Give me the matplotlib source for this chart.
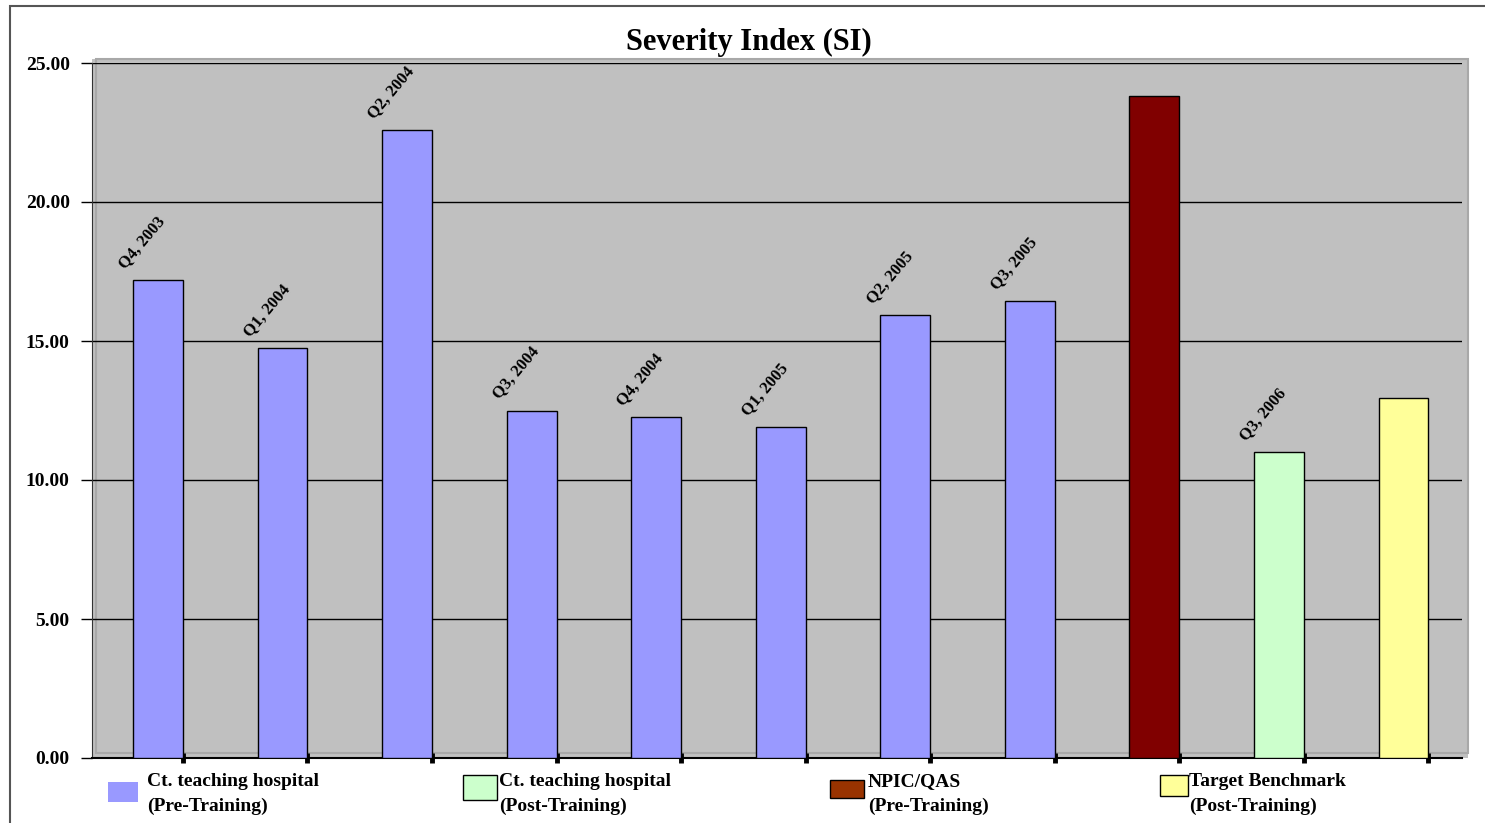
import matplotlib.pyplot as plt
from matplotlib.patches import Rectangle

# Severity Index per quarter / benchmark
bar_labels = ['Q4, 2003', 'Q1, 2004', 'Q2, 2004', 'Q3, 2004', 'Q4, 2004', 'Q1, 2005',
              'Q2, 2005', 'Q3, 2005', '', 'Q3, 2006', '']
si_values = [17.2, 14.75, 22.6, 12.5, 12.25, 11.9, 15.95, 16.45, 23.8, 11.0, 12.95]
bar_groups = ['pre', 'pre', 'pre', 'pre', 'pre', 'pre', 'pre', 'pre', 'npic', 'post', 'target']

group_colors = {'pre': '#9999FF', 'post': '#CCFFCC', 'npic': '#800000', 'target': '#FFFF99'}
legend_names = ['Ct. teaching hospital\n(Pre-Training)',
                'Ct. teaching hospital\n(Post-Training)',
                'NPIC/QAS\n(Pre-Training)',
                'Target Benchmark\n(Post-Training)']
legend_colors = ['#9999FF', '#CCFFCC', '#993300', '#FFFF99']
y_ticks = [0, 5, 10, 15, 20, 25]

W, H = 1485, 823
font = ['Liberation Serif', 'DejaVu Serif']

fig = plt.figure(figsize=(W / 100, H / 100), dpi=100)
fig.patch.set_facecolor('white')


def fx(px):
    return px / W


def fy(py):
    return 1 - py / H


# outer frame
fig.add_artist(Rectangle((fx(10), -0.1), 1.2, fy(6) + 0.1, transform=fig.transFigure,
                         fill=False, edgecolor='#555555', lw=1.5))
# 3d back wall of the plot area
fig.add_artist(Rectangle((fx(92), fy(758)), fx(1468) - fx(92), fy(59) - fy(758),
                         transform=fig.transFigure, facecolor='#C0C0C0',
                         edgecolor='none', zorder=0))
fig.add_artist(Rectangle((fx(96), fy(753)), fx(1468) - fx(96), fy(59) - fy(753),
                         transform=fig.transFigure, fill=False,
                         edgecolor='#A8A8A8', lw=1.5, zorder=0))

ax = fig.add_axes([fx(92), fy(758), fx(1462) - fx(92), fy(63) - fy(758)])
ax.set_facecolor('none')
ax.set_zorder(1)

x = list(range(len(si_values)))
colors = [group_colors[g] for g in bar_groups]
ax.bar(x, si_values, width=0.4, color=colors, edgecolor='black', linewidth=1, zorder=3)

for xi, v, lab in zip(x, si_values, bar_labels):
    if lab:
        ax.text(xi - 0.24, v + 0.3, lab, rotation=50, rotation_mode='anchor',
                ha='left', va='bottom', fontsize=12, fontweight='bold', family=font)

ax.set_xlim(-0.53, 10.47)
ax.set_ylim(0, 25)
ax.set_yticks(y_ticks)
ax.set_yticklabels(['%.2f' % t for t in y_ticks], fontsize=14, fontweight='bold', family=font)
ax.yaxis.grid(True, color='black', linewidth=1)
ax.set_axisbelow(True)
ax.tick_params(axis='y', length=8, width=1, pad=8)
ax.set_xticks([i + 0.2 for i in x])
ax.set_xticklabels([])
ax.tick_params(axis='x', direction='inout', length=7, width=3.5, color='black')

for s in ['top', 'right']:
    ax.spines[s].set_visible(False)
ax.spines['left'].set_color('#333333')
ax.spines['bottom'].set_color('black')
ax.spines['bottom'].set_linewidth(1.5)

fig.text(fx(749), fy(42), 'Severity Index (SI)', ha='center', va='center',
         fontsize=22, fontweight='bold', family=font)

# legend below the plot
patch_boxes = [(108, 782, 30, 20), (463, 775, 34, 25), (830, 780, 34, 18), (1160, 775, 28, 21)]
text_x = [147, 499, 868, 1189]
for (px, py, pw, ph), tx, name, col, i in zip(patch_boxes, text_x, legend_names, legend_colors, range(4)):
    fig.add_artist(Rectangle((fx(px), fy(py + ph)), fx(pw), ph / H, transform=fig.transFigure,
                             facecolor=col, edgecolor='none' if i == 0 else 'black', lw=1))
    fig.text(fx(tx), fy(773), name, ha='left', va='top', fontsize=14, fontweight='bold',
             family=font, linespacing=1.55)

fig.savefig('out.png', dpi=100)
